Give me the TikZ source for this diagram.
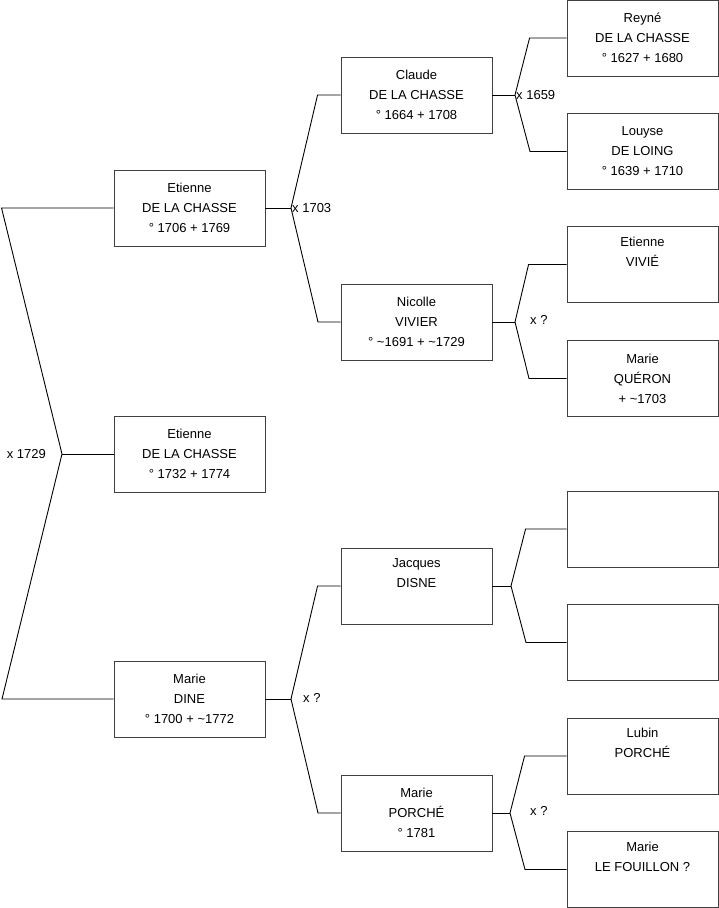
\documentclass[tikz,border=0pt]{standalone}
\usepackage{fontspec}
\setmainfont{Liberation Sans}
\usepackage{tikz}
\usetikzlibrary{positioning}

\begin{document}
\begin{tikzpicture}[
    x=1pt, y=-1pt,
    person/.style={rectangle, draw=black!75, line width=0.9pt, minimum width=151pt, minimum height=76pt, inner sep=0pt, align=center, font=\fontsize{13}{20}\selectfont},
    link/.style={draw, line width=0.9pt},
    union/.style={inner sep=1pt, font=\fontsize{13}{15}\selectfont}
]
    \useasboundingbox (0,0) rectangle (719,908);

    % Generation 1
    \node[person] (etienne) at (189.5,454) {Etienne\\DE LA CHASSE\\° 1732 + 1774};
    \node[person] (pere) at (189.5,208) {Etienne\\DE LA CHASSE\\° 1706 + 1769};
    \node[person] (mere) at (189.5,699) {Marie\\DINE\\° 1700 + \textasciitilde1772};

    % Generation 2
    \node[person] (claude) at (416.5,95) {Claude\\DE LA CHASSE\\° 1664 + 1708};
    \node[person] (nicolle) at (416.5,322) {Nicolle\\VIVIER\\° \textasciitilde1691 + \textasciitilde1729};
    \node[person] (jacques) at (416.5,586) {Jacques\\DISNE\\\strut};
    \node[person] (porche) at (416.5,813) {Marie\\PORCHÉ\\° 1781};

    % Generation 3
    \node[person] (reyne) at (642.5,38) {Reyné\\DE LA CHASSE\\° 1627 + 1680};
    \node[person] (louyse) at (642.5,151.5) {Louyse\\DE LOING\\° 1639 + 1710};
    \node[person] (vivie) at (642.5,264.5) {Etienne\\VIVIÉ\\\strut};
    \node[person] (queron) at (642.5,378.5) {Marie\\QUÉRON\\+ \textasciitilde1703};
    \node[person] (inconnu1) at (642.5,529) {};
    \node[person] (inconnu2) at (642.5,642.5) {};
    \node[person] (lubin) at (642.5,756) {Lubin\\PORCHÉ\\\strut};
    \node[person] (fouillon) at (642.5,869.5) {Marie\\LE FOUILLON ?\\\strut};

    % Unions
    \coordinate (u1729) at (62,454);
    \coordinate (u1703) at (291,208);
    \coordinate (u1659) at (515,95);
    \coordinate (uvivier) at (515,322);
    \coordinate (udine) at (291,699);
    \coordinate (udisne) at (511,586);
    \coordinate (uporche) at (510,813);

    % Links
    \draw[link] (pere.west) -- ++(-112,0) -- (u1729) -- ++(-60,245) -- (mere.west);
    \draw[link] (u1729) -- (etienne.west);
    \draw[link] (pere.east) -- (u1703);
    \draw[link] (claude.west) -- ++(-23,0) -- (u1703) -- ++(27,114) -- (nicolle.west);
    \draw[link] (claude.east) -- (u1659);
    \draw[link] (reyne.west) -- ++(-37,0) -- (u1659) -- ++(15,56.5) -- (louyse.west);
    \draw[link] (nicolle.east) -- (uvivier);
    \draw[link] (vivie.west) -- ++(-38,0) -- (uvivier) -- ++(14,56.5) -- (queron.west);
    \draw[link] (mere.east) -- (udine);
    \draw[link] (jacques.west) -- ++(-23,0) -- (udine) -- ++(27,114) -- (porche.west);
    \draw[link] (jacques.east) -- (udisne);
    \draw[link] (inconnu1.west) -- ++(-41,0) -- (udisne) -- ++(15,56.5) -- (inconnu2.west);
    \draw[link] (porche.east) -- (uporche);
    \draw[link] (lubin.west) -- ++(-42,0) -- (uporche) -- ++(15,56.5) -- (fouillon.west);

    % Labels
    \node[union, left=15pt of u1729] {x 1729};
    \node[union, anchor=west] at (u1703) {x 1703};
    \node[union, anchor=west] at (u1659) {x 1659};
    \node[union, anchor=west] at (529,320) {x ?};
    \node[union, anchor=west] at (302,698) {x ?};
    \node[union, anchor=west] at (529,811) {x ?};
\end{tikzpicture}
\end{document}
